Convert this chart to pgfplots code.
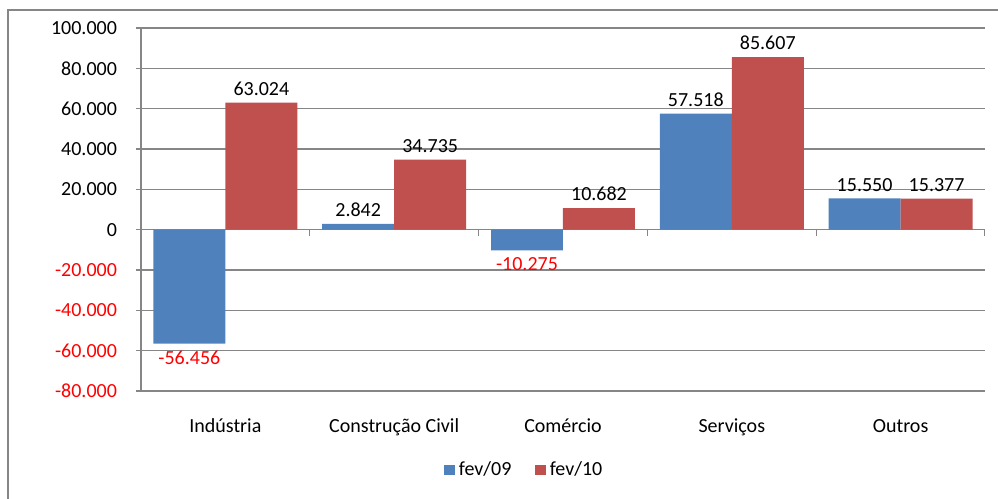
\documentclass[border=0pt]{standalone}
\usepackage{pgfplots}
\pgfplotsset{compat=1.18}
\usepackage{fontspec}
\setmainfont{Carlito}
\definecolor{cblue}{HTML}{4F81BD}
\definecolor{cred}{HTML}{C0504D}
\definecolor{gridgray}{HTML}{868686}
\begin{document}
\begin{tikzpicture}[font=\fontsize{10}{12}\selectfont]
\useasboundingbox (0,0) rectangle (499pt,249.5pt);
\draw[gridgray, line width=0.6pt] (4pt,-5pt) -- (4pt,244.5pt) -- (510pt,244.5pt);
\begin{axis}[
  at={(70.5pt,54pt)}, anchor=south west,
  width=422pt, height=181.5pt, scale only axis,
  xmin=-0.5, xmax=4.5, ymin=-80000, ymax=100000,
  scaled y ticks=false,
  axis y line*=left, axis x line*=bottom,
  x axis line style={draw=none},
  y axis line style={gridgray, line width=0.6pt},
  xtick={0,1,2,3,4},
  xticklabels={Indústria, Construção Civil, Comércio, Serviços, Outros},
  xtick style={draw=none},
  xticklabel style={yshift=-8pt},
  ytick={-80000,-60000,-40000,-20000,0,20000,40000,60000,80000,100000},
  yticklabels={{\color{red}-80.000},{\color{red}-60.000},{\color{red}-40.000},{\color{red}-20.000},0,20.000,40.000,60.000,80.000,100.000},
  tick align=outside, major tick length=2.5pt,
  ytick style={gridgray, line width=0.6pt},
  yticklabel style={xshift=-6pt},
  ymajorgrids, grid style={gridgray, line width=0.6pt},
  ybar=0pt, bar width=0.4265,
  /pgf/number format/.cd, 1000 sep={.}, fixed, assume math mode=true,
  /pgfplots/.cd,
  nodes near coords={\pgfmathfloatifflags{\pgfplotspointmeta}{-}{\color{red}}{}\pgfmathprintnumber{\pgfplotspointmeta}},
  nodes near coords align={vertical},
  every node near coord/.append style={font=\fontsize{10}{12}\selectfont},
  legend style={at={(0.352,-0.218)}, anchor=west, draw=none, legend columns=2,
    /tikz/every even column/.append style={column sep=10pt}},
  legend image code/.code={\draw[#1,draw=none] (0pt,-2.6pt) rectangle (5.2pt,2.6pt);},
]
\addplot[fill=cblue, draw=none] coordinates {(0,-56456) (1,2842) (2,-10275) (3,57518) (4,15550)};
\addplot[fill=cred, draw=none] coordinates {(0,63024) (1,34735) (2,10682) (3,85607) (4,15377)};
\legend{fev/09, fev/10}
\pgfplotsinvokeforeach{-0.5,0.5,1.5,2.5,3.5,4.5}{\draw[gridgray, line width=0.6pt] (axis cs:#1,0) -- ([yshift=-3pt]axis cs:#1,0);}
\end{axis}
\end{tikzpicture}
\end{document}
